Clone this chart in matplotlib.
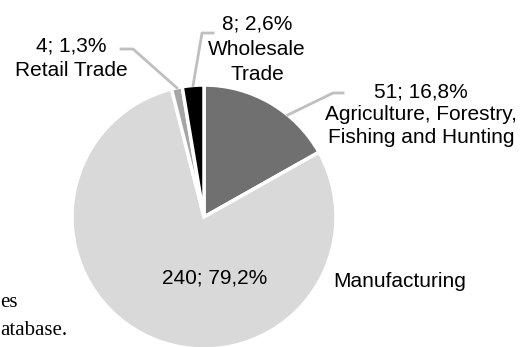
import numpy as np
import matplotlib.pyplot as plt

# data: firms per sector
sectors = ['Agriculture, Forestry,\nFishing and Hunting', 'Manufacturing', 'Retail Trade', 'Wholesale\nTrade']
firms = [51, 240, 4, 8]
shares = ['16,8%', '79,2%', '1,3%', '2,6%']
colors = ['#707070', '#d9d9d9', '#a6a6a6', '#000000']

W, H = 523, 347
plt.rcParams['font.family'] = ['Liberation Sans', 'DejaVu Sans']
fig = plt.figure(figsize=(W / 100, H / 100), dpi=100)

# pie placement in pixels (top-left origin)
cx, cy, r = 204, 217, 132
ax = fig.add_axes([(cx - r) / W, (H - cy - r) / H, 2 * r / W, 2 * r / H])
wedges, _ = ax.pie(firms, colors=colors, startangle=90, counterclock=False,
                   wedgeprops=dict(edgecolor='white', linewidth=2.5))
ax.set_xlim(-1, 1)
ax.set_ylim(-1, 1)
ax.axis('off')


def fpx(x, y):
    return x / W, 1 - y / H


def wedge_px(w, frac):
    ang = np.deg2rad(w.theta1 + frac * (w.theta2 - w.theta1))
    return cx + r * np.cos(ang), cy - r * np.sin(ang)


fs = 15
# label layout: (text centre x, first baseline y, line step, leader start, leader knee, anchor frac)
layout = {
    0: (421, 97, 23, (343, 93), (333, 93), 0.35),
    2: (71, 52, 24, (121, 49), (133, 49), 0.5),
    3: (257, 30, 25, (213, 33), (202, 33), 0.5),
}

for i, (x0, y0, step, p0, p1, frac) in layout.items():
    lines = [f'{firms[i]}; {shares[i]}'] + sectors[i].split('\n')
    for k, line in enumerate(lines):
        fig.text(*fpx(x0, y0 + k * step), line, ha='center', va='baseline', fontsize=fs)
    p2 = wedge_px(wedges[i], frac)
    xs = [p0[0], p1[0], p2[0]]
    ys = [p0[1], p1[1], p2[1]]
    fig.add_artist(plt.Line2D([x / W for x in xs], [1 - y / H for y in ys],
                              transform=fig.transFigure, color='#bfbfbf', lw=2))

# manufacturing: value inside, name outside
fig.text(*fpx(215, 284), f'{firms[1]}; {shares[1]}', ha='center', va='baseline', fontsize=fs)
fig.text(*fpx(400, 287), sectors[1], ha='center', va='baseline', fontsize=fs)

# cut-off caption text from the page
fig.text(*fpx(0, 307), 'es', ha='left', va='baseline', fontsize=fs, family='Liberation Serif')
fig.text(*fpx(0, 335), 'atabase.', ha='left', va='baseline', fontsize=fs, family='Liberation Serif')

fig.savefig('out.png', dpi=100)
